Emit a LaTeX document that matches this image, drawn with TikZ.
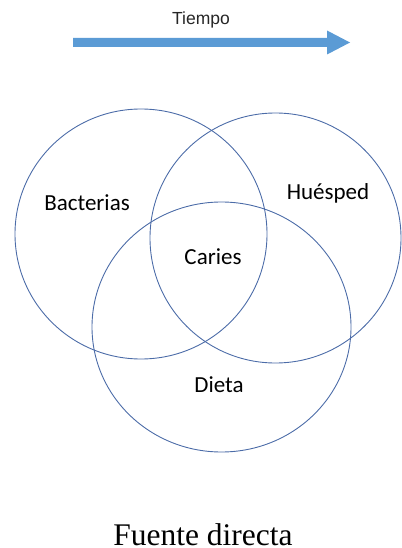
\documentclass[tikz,border=0pt]{standalone}
\usepackage{fontspec}
\setmainfont{Liberation Serif}
\newfontfamily\calibri{Carlito}
\newfontfamily\arial{Liberation Sans}
\definecolor{ringblue}{RGB}{76,108,168}
\definecolor{arrowblue}{RGB}{91,155,213}
\begin{document}
\begin{tikzpicture}[x=1pt,y=-1pt,
  ring/.style={draw=ringblue,line width=0.9pt},
  lbl/.style={font=\calibri\fontsize{23}{27}\selectfont,text=black,inner sep=0pt},
  tlbl/.style={font=\arial\fontsize{17.5}{20}\selectfont,text=black!85,inner sep=0pt},
  src/.style={font=\fontsize{31.5}{36}\selectfont,text=black,inner sep=0pt,anchor=base}]
\useasboundingbox (0,0) rectangle (401,548);
% arrow
\fill[arrowblue] (73,38) -- (327,38) -- (327,30.5) -- (350,42.5) -- (327,54.5) -- (327,47) -- (73,47) -- cycle;
\node[tlbl] (tiempo) at (201,20) {Tiempo};
% circles
\draw[ring] (141,234) ellipse[x radius=126,y radius=125];
\draw[ring] (275.5,238) ellipse[x radius=125.5,y radius=125];
\draw[ring] (221.5,327) ellipse[x radius=129.5,y radius=125];
% labels
\node[lbl] (bact) at (87,203) {Bacterias};
\node[lbl] (hues) at (328,193) {Huésped};
\node[lbl] (car) at (213,257) {Caries};
\node[lbl] (diet) at (219,385) {Dieta};
\node[src] (fuente) at (203,545) {Fuente directa};
\end{tikzpicture}
\end{document}
